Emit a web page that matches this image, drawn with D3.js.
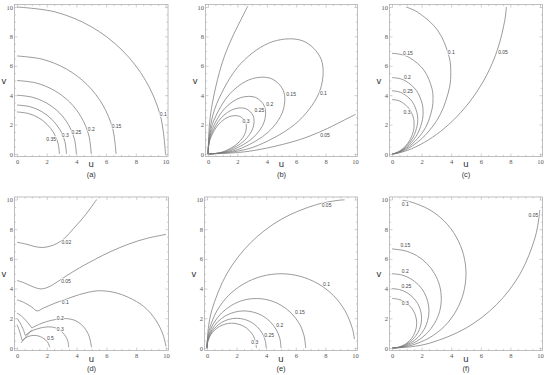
<!DOCTYPE html>
<html>
<head>
<meta charset="utf-8">
<script src="https://cdn.jsdelivr.net/npm/d3@7"></script>
<style>
  body { margin: 0; background: #fff; }
  svg { display: block; }
</style>
</head>
<body>
<svg id="chart" width="550" height="375"></svg>
<script>
// ---- data (u, v pairs) ----
var majorTicks = [0, 2, 4, 6, 8, 10];
var minorTicks = [0.5, 1, 1.5, 2.5, 3, 3.5, 4.5, 5, 5.5, 6.5, 7, 7.5, 8.5, 9, 9.5];

// (a)
var aLines = [
  [[2.86,0],[2.76,0.74],[2.48,1.43],[2.02,2.02],[1.43,2.48],[0.74,2.76],[0,2.86]],
  [[3.33,0],[3.22,0.86],[2.88,1.67],[2.35,2.35],[1.67,2.88],[0.86,3.22],[0,3.33]],
  [[4,0],[3.86,1.04],[3.46,2],[2.83,2.83],[2,3.46],[1.04,3.86],[0,4]],
  [[5,0],[4.83,1.29],[4.33,2.5],[3.54,3.54],[2.5,4.33],[1.29,4.83],[0,5]],
  [[6.67,0],[6.44,1.73],[5.78,3.33],[4.72,4.72],[3.33,5.78],[1.73,6.44],[0,6.67]],
  [[10,0],[9.66,2.59],[8.66,5],[7.07,7.07],[5,8.66],[2.59,9.66],[0,10]]
];
var aLabelText = ["0.35", "0.3", "0.25", "0.2", "0.15", "0.1"];
var aLabelPos = [[2.3,0.98],[3.25,1.27],[4.0,1.45],[5.0,1.68],[6.7,1.9],[9.85,2.7]];

// (b)
var bLines = [
  [[0,0],[0.59,0.05],[1.15,0.2],[2.05,0.75],[2.55,1.47],[2.56,2.15],[2.15,2.56],[1.47,2.55],[0.75,2.05],[0.2,1.15],[0.05,0.59],[0,0]],
  [[0,0],[0.71,0.06],[1.37,0.24],[2.46,0.9],[3.06,1.77],[3.08,2.58],[2.58,3.08],[1.77,3.06],[0.9,2.46],[0.24,1.37],[0.06,0.71],[0,0]],
  [[0,0],[0.88,0.08],[1.72,0.3],[3.08,1.12],[3.83,2.21],[3.85,3.23],[3.23,3.85],[2.21,3.83],[1.12,3.08],[0.3,1.72],[0.08,0.88],[0,0]],
  [[0,0],[1.18,0.1],[2.29,0.4],[4.11,1.5],[5.1,2.94],[5.13,4.3],[4.3,5.13],[2.94,5.1],[1.5,4.11],[0.4,2.29],[0.1,1.18],[0,0]],
  [[0,0],[1.76,0.15],[3.44,0.6],[6.16,2.24],[7.65,4.42],[7.69,6.46],[6.46,7.69],[4.42,7.65],[2.24,6.16],[0.6,3.44],[0.15,1.76],[0,0]],
  [[0,0],[2.13,0.11],[3.53,0.31],[5.57,0.78],[6.87,1.2],[8.11,1.73],[9.29,2.32],[10.05,2.7]],
  [[0,0],[0.11,2.13],[0.31,3.53],[0.78,5.57],[1.2,6.87],[1.73,8.11],[2.32,9.29],[2.7,10.05]]
];
var bLabelText = ["0.3", "0.25", "0.2", "0.15", "0.1", "0.05"];
var bLabelPos = [[2.59,2.2],[3.5,2.95],[4.2,3.4],[5.65,4.08],[7.85,4.1],[7.96,1.25]];

// (c)
var cLines = [
  [[0,0],[0.11,0.02],[0.43,0.15],[0.84,0.46],[1.23,0.98],[1.47,1.67],[1.49,2.04],[1.46,2.41],[1.17,3.07],[0.65,3.53],[0.34,3.66],[0,3.7]],
  [[0,0],[0.13,0.02],[0.5,0.17],[0.98,0.54],[1.43,1.14],[1.7,1.94],[1.74,2.37],[1.69,2.8],[1.36,3.57],[0.76,4.11],[0.39,4.25],[0,4.3]],
  [[0,0],[0.16,0.03],[0.6,0.21],[1.18,0.65],[1.73,1.38],[2.06,2.34],[2.1,2.86],[2.05,3.38],[1.65,4.32],[0.92,4.97],[0.47,5.14],[0,5.2]],
  [[0,0],[0.21,0.04],[0.79,0.27],[1.55,0.86],[2.28,1.82],[2.71,3.08],[2.77,3.77],[2.7,4.45],[2.17,5.69],[1.21,6.54],[0.62,6.77],[0,6.85]],
  [[0,0],[0.31,0.05],[1.13,0.4],[2.23,1.26],[3.26,2.69],[3.89,4.55],[3.97,5.56],[3.87,6.57],[3.11,8.38],[1.73,9.65],[0.95,10.0]],
  [[0,0],[0.15,0.01],[0.6,0.11],[1.31,0.35],[2.22,0.81],[3.27,1.53],[4.37,2.53],[5.44,3.81],[6.4,5.37],[7.14,7.14],[7.62,9.09],[7.73,10.0]]
];
var cLabelText = ["0.3", "0.25", "0.2", "0.15", "0.1", "0.05"];
var cLabelPos = [[1.01,2.85],[1.08,4.24],[1.04,5.21],[1.08,6.88],[4.0,6.9],[7.5,6.9]];

// (d)
var dLines = [
  [[0,7.12],[0.6,7.0],[1.2,6.83],[1.7,6.77],[2.2,6.85],[2.7,7.05],[3.2,7.4],[3.8,8.05],[4.5,8.85],[5.35,10]],
  [[0,4.55],[0.5,4.38],[1.0,4.15],[1.6,3.98],[2.1,4.1],[2.7,4.45],[3.3,4.85],[4.2,5.4],[5.2,5.95],[6.3,6.5],[7.5,7.0],[8.7,7.38],[10,7.65]],
  [[0,3.25],[0.5,3.05],[1.0,2.75],[1.35,2.5],[1.8,2.7],[2.5,3.0],[3.2,3.25],[4.2,3.6],[5.4,3.85],[6.5,3.75],[7.5,3.4],[8.5,2.8],[9.3,1.9],[9.8,0.9],[10,0.1]],
  [[0,2.35],[0.3,2.15],[0.6,1.85],[0.85,1.55],[1.0,1.35]],
  [[1.0,1.35],[1.5,1.6],[2.0,1.78],[2.6,1.92],[3.3,1.98],[3.9,1.85],[4.4,1.5],[4.8,0.9],[5.0,0.05]],
  [[0,2.0],[0.2,1.7],[0.4,1.3],[0.55,0.85]],
  [[0.55,0.85],[0.9,1.1],[1.4,1.3],[2.0,1.42],[2.6,1.35],[3.1,1.0],[3.4,0.5],[3.47,0.05]],
  [[0,1.57],[0.15,1.2],[0.25,0.85],[0.35,0.5]],
  [[0.35,0.5],[0.7,0.75],[1.2,0.85],[1.7,0.7],[2.05,0.4],[2.2,0.05]],
  [[0.27,0.34],[0.6,0.75],[1.0,1.23]]
];
var dLabelText = ["0.02", "0.05", "0.1", "0.2", "0.3", "0.5"];
var dLabelPos = [[3.31,7.11],[3.29,4.47],[3.24,3.09],[2.9,2.0],[2.9,1.27],[2.24,0.63]];

// (e)
var eLines = [
  [[0,0],[0.014,0.22],[0.057,0.43],[0.22,0.84],[0.49,1.18],[0.84,1.45],[1.24,1.61],[1.67,1.67],[2.1,1.61],[2.51,1.45],[2.85,1.18],[3.12,0.84],[3.28,0.43],[3.34,0]],
  [[0,0],[0.017,0.26],[0.068,0.52],[0.27,1.0],[0.59,1.41],[1.0,1.73],[1.48,1.93],[2,2],[2.52,1.93],[3.0,1.73],[3.41,1.41],[3.73,1.0],[3.93,0.52],[4,0]],
  [[0,0],[0.02,0.33],[0.085,0.65],[0.34,1.25],[0.73,1.77],[1.25,2.17],[1.85,2.41],[2.5,2.5],[3.15,2.41],[3.75,2.17],[4.27,1.77],[4.67,1.25],[4.92,0.65],[5,0]],
  [[0,0],[0.029,0.43],[0.11,0.86],[0.45,1.67],[0.98,2.35],[1.67,2.88],[2.47,3.22],[3.33,3.33],[4.19,3.22],[5.0,2.88],[5.69,2.35],[6.22,1.67],[6.55,0.86],[6.67,0]],
  [[0,0],[0.043,0.65],[0.17,1.29],[0.67,2.5],[1.46,3.54],[2.5,4.33],[3.71,4.83],[5,5],[6.29,4.83],[7.5,4.33],[8.54,3.54],[9.33,2.5],[9.83,1.29],[9.96,0.6]],
  [[0,0],[0.086,1.3],[0.34,2.59],[1.34,5.0],[2.93,7.07],[5.0,8.66],[7.41,9.66],[8.78,9.93],[9.3,9.98]]
];
var eLabelText = ["0.3", "0.25", "0.2", "0.15", "0.1", "0.05"];
var eLabelPos = [[3.23,0.4],[4.2,0.85],[4.92,1.5],[6.28,2.39],[8.08,4.32],[8.08,9.62]];

// (f)
var fLines = [
  [[0,0],[0.22,0.014],[0.43,0.057],[0.84,0.22],[1.18,0.49],[1.45,0.84],[1.61,1.24],[1.67,1.67],[1.61,2.1],[1.45,2.51],[1.18,2.85],[0.84,3.12],[0.43,3.28],[0,3.34]],
  [[0,0],[0.26,0.017],[0.52,0.068],[1.0,0.27],[1.41,0.59],[1.73,1.0],[1.93,1.48],[2,2],[1.93,2.52],[1.73,3.0],[1.41,3.41],[1.0,3.73],[0.52,3.93],[0,4]],
  [[0,0],[0.33,0.02],[0.65,0.085],[1.25,0.34],[1.77,0.73],[2.17,1.25],[2.41,1.85],[2.5,2.5],[2.41,3.15],[2.17,3.75],[1.77,4.27],[1.25,4.67],[0.65,4.92],[0,5]],
  [[0,0],[0.43,0.029],[0.86,0.11],[1.67,0.45],[2.35,0.98],[2.88,1.67],[3.22,2.47],[3.33,3.33],[3.22,4.19],[2.88,5.0],[2.35,5.69],[1.67,6.22],[0.86,6.55],[0,6.67]],
  [[0,0],[0.65,0.043],[1.29,0.17],[2.5,0.67],[3.54,1.46],[4.33,2.5],[4.83,3.71],[5,5],[4.83,6.29],[4.33,7.5],[3.54,8.54],[2.5,9.33],[1.29,9.83],[0.7,9.95]],
  [[0,0],[1.3,0.086],[2.59,0.34],[5.0,1.34],[7.07,2.93],[8.66,5.0],[9.66,7.41],[9.93,8.78],[9.98,9.3]]
];
var fLabelText = ["0.3", "0.25", "0.2", "0.15", "0.1", "0.05"];
var fLabelPos = [[0.9,3.01],[0.97,4.13],[0.9,5.17],[0.9,6.9],[0.9,9.66],[9.55,8.94]];

// ---- layout ----
var panels = [
  {tag: "(a)", lines: aLines, text: aLabelText, pos: aLabelPos, x0: 17,  x1: 165.5, y0: 154, y1: 7},
  {tag: "(b)", lines: bLines, text: bLabelText, pos: bLabelPos, x0: 208, x1: 355,   y0: 154, y1: 7},
  {tag: "(c)", lines: cLines, text: cLabelText, pos: cLabelPos, x0: 392, x1: 540,   y0: 154, y1: 7},
  {tag: "(d)", lines: dLines, text: dLabelText, pos: dLabelPos, x0: 17,  x1: 166,   y0: 348, y1: 199.5},
  {tag: "(e)", lines: eLines, text: eLabelText, pos: eLabelPos, x0: 207, x1: 355,   y0: 348, y1: 199.5},
  {tag: "(f)", lines: fLines, text: fLabelText, pos: fLabelPos, x0: 392, x1: 540,   y0: 348, y1: 199.5}
];

var svg = d3.select("#chart");
var lineColor = "#7a7a7a";
var frameColor = "#b0b0b0";

panels.forEach(function (p, i) {
  var x = d3.scaleLinear().domain([0, 10]).range([p.x0, p.x1]);
  var y = d3.scaleLinear().domain([0, 10]).range([p.y0, p.y1]);
  var fx0 = x(-0.17), fx1 = x(10.17), fy0 = y(-0.17), fy1 = y(10.17);
  var g = svg.append("g");

  // clip to the frame
  g.append("clipPath").attr("id", "clip" + i)
    .append("rect")
    .attr("x", fx0).attr("y", fy1)
    .attr("width", fx1 - fx0).attr("height", fy0 - fy1);

  // contour lines
  var line = d3.line()
    .x(function (d) { return x(d[0]); })
    .y(function (d) { return y(d[1]); })
    .curve(d3.curveCatmullRom.alpha(0.5));

  g.append("g").attr("clip-path", "url(#clip" + i + ")")
    .selectAll("path")
    .data(p.lines)
    .enter()
    .append("path")
    .attr("d", line)
    .attr("fill", "none")
    .attr("stroke", lineColor)
    .attr("stroke-width", 0.75);

  // contour labels
  g.selectAll("text.lab")
    .data(p.text)
    .enter()
    .append("text")
    .attr("class", "lab")
    .attr("x", function (d, k) { return x(p.pos[k][0]); })
    .attr("y", function (d, k) { return y(p.pos[k][1]); })
    .attr("dy", "0.35em")
    .attr("text-anchor", "middle")
    .attr("font-family", "Liberation Sans, Arial, sans-serif")
    .attr("font-size", 5)
    .attr("fill", "#444")
    .attr("stroke", "#fff")
    .attr("stroke-width", 1.5)
    .attr("paint-order", "stroke")
    .text(function (d) { return d; });

  // frame
  g.append("rect")
    .attr("x", fx0).attr("y", fy1)
    .attr("width", fx1 - fx0).attr("height", fy0 - fy1)
    .attr("fill", "none")
    .attr("stroke", frameColor)
    .attr("stroke-width", 0.8);

  // axes (ticks on all four sides, labels bottom/left)
  function styleAxis(sel) {
    sel.select(".domain").remove();
    sel.selectAll("line").attr("stroke", frameColor).attr("stroke-width", 0.6);
    sel.selectAll("text")
      .attr("font-family", "Liberation Serif, Times New Roman, serif")
      .attr("font-size", 6.5)
      .attr("fill", "#555");
  }
  var bottom = g.append("g").attr("transform", "translate(0," + fy0 + ")")
    .call(d3.axisBottom(x).tickValues(majorTicks).tickSize(-3).tickPadding(2.5).tickFormat(d3.format("d")));
  styleAxis(bottom);
  var left = g.append("g").attr("transform", "translate(" + fx0 + ",0)")
    .call(d3.axisLeft(y).tickValues(majorTicks).tickSize(-3).tickPadding(1.5).tickFormat(d3.format("d")));
  styleAxis(left);
  var top = g.append("g").attr("transform", "translate(0," + fy1 + ")")
    .call(d3.axisTop(x).tickValues(majorTicks).tickSize(-3).tickFormat(""));
  styleAxis(top);
  var right = g.append("g").attr("transform", "translate(" + fx1 + ",0)")
    .call(d3.axisRight(y).tickValues(majorTicks).tickSize(-3).tickFormat(""));
  styleAxis(right);

  [[d3.axisBottom(x), "translate(0," + fy0 + ")"],
   [d3.axisTop(x), "translate(0," + fy1 + ")"],
   [d3.axisLeft(y), "translate(" + fx0 + ",0)"],
   [d3.axisRight(y), "translate(" + fx1 + ",0)"]].forEach(function (a) {
    var m = g.append("g").attr("transform", a[1])
      .call(a[0].tickValues(minorTicks).tickSize(-1.6).tickFormat(""));
    styleAxis(m);
  });

  // axis titles and panel tag
  var cx = (fx0 + fx1) / 2;
  g.append("text")
    .attr("x", cx).attr("y", fy0 + 11)
    .attr("text-anchor", "middle")
    .attr("font-family", "Liberation Sans, Arial, sans-serif")
    .attr("font-size", 9.5)
    .attr("fill", "#333")
    .text("u");
  g.append("text")
    .attr("x", cx).attr("y", fy0 + 20.3)
    .attr("text-anchor", "middle")
    .attr("font-family", "Liberation Sans, Arial, sans-serif")
    .attr("font-size", 7.5)
    .attr("fill", "#333")
    .text(p.tag);
  g.append("text")
    .attr("x", fx0 - 10.5).attr("y", (fy0 + fy1) / 2 + 3)
    .attr("text-anchor", "middle")
    .attr("font-family", "Liberation Sans, Arial, sans-serif")
    .attr("font-size", 9.5)
    .attr("fill", "#333")
    .text("v");
});
</script>
</body>
</html>
